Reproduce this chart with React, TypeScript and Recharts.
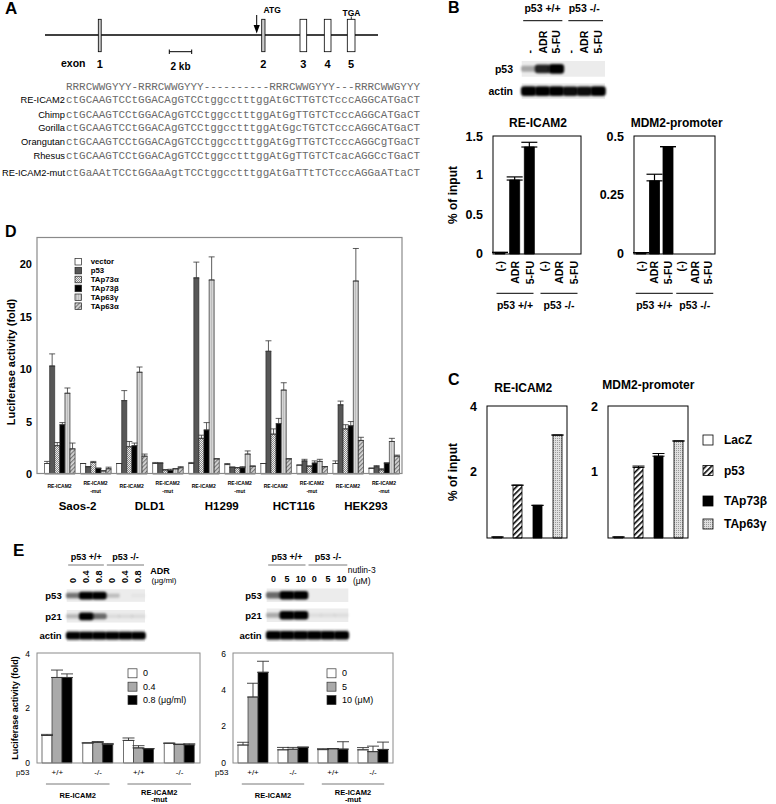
'use client'

import React from 'react'
import { BarChart, Bar, XAxis, YAxis, ErrorBar, Cell } from 'recharts'

const FONT = '"Liberation Sans", Arial, Helvetica, sans-serif'
const MONO = '"Liberation Mono", "Courier New", monospace'

// ---- A: alignment
const consensus = 'RRRCWWGYYY-RRRCWWGYYY----------RRRCWWGYYY---RRRCWWGYYY'
const seqNames = ['RE-ICAM2', 'Chimp', 'Gorilla', 'Orangutan', 'Rhesus', 'RE-ICAM2-mut']
const seqs = [
  'ctGCAAGTCCtGGACAgGTCCtggcctttggAtGCTTGTCTcccAGGCATGaCT',
  'ctGCAAGTCCtGGACAgGTCCtggcctttggAtGgTTGTCTcccAGGCATGaCT',
  'ctGCAAGTCCtGGACAgGTCCtggcctttggAtGgcTGTCTcccAGGCATGaCT',
  'ctGCAAGTCCtGGACAgGTCCtggcctttggAtGgTTGTCTcccAGGCgTGaCT',
  'ctGCAAGTCCtGGACAgGTCCtggcctttggAtGgTTGTCTcacAGGCcTGaCT',
  'ctGaAAtTCCtGGAaAgtTCCtggcctttggAtGaTTtTCTcccAGGaATtaCT',
]
const exonNames = ['1', '2', '3', '4', '5']

// ---- B: ChIP
const chipLanes = ['(-)', 'ADR', '5-FU', '(-)', 'ADR', '5-FU']
const chipIcam2 = [0.02, 0.94, 1.36, 0, 0, 0]
const chipIcam2Err = [0, 0.04, 0.06, 0, 0, 0]
const chipMdm2 = [0.006, 0.31, 0.455, 0, 0, 0]
const chipMdm2Err = [0, 0.028, 0, 0, 0, 0]
const blotBLanes = ['-', 'ADR', '5-FU', '-', 'ADR', '5-FU']
const blotBp53 = [0.3, 0.85, 1, 0, 0, 0]
const blotBactin = [1, 1, 1, 0.95, 0.95, 1]

// ---- C: ChIP with overexpression
const cFactors = ['LacZ', 'p53', 'TAp73β', 'TAp63γ']
const cIcam2 = [0.03, 1.6, 0.99, 3.12]
const cIcam2Err = [0, 0, 0, 0]
const cMdm2 = [0.015, 1.07, 1.24, 1.47]
const cMdm2Err = [0, 0.02, 0.04, 0]

// ---- D: luciferase in cell lines
const cellLines = ['Saos-2', 'DLD1', 'H1299', 'HCT116', 'HEK293']
const dSeriesNames = ['vector', 'p53', 'TAp73α', 'TAp73β', 'TAp63γ', 'TAp63α']
const dVector = [1.0, 1.0, 1.0, 1.0, 1.0, 0.9, 1.0, 0.85, 1.0, 0.55]
const dVectorErr = [0.2, 0, 0, 0.1, 0.1, 0.1, 0, 0, 0.25, 0]
const dP53 = [10.3, 0.7, 7.0, 1.05, 18.7, 0.65, 11.7, 1.25, 6.6, 0.7]
const dP53Err = [1.15, 0, 0.95, 0, 1.5, 0, 1.0, 0.15, 0.35, 0.1]
const dTAp73a = [2.7, 1.1, 2.6, 0.4, 3.4, 0.6, 3.8, 0.75, 4.3, 0.4]
const dTAp73aErr = [0.3, 0.1, 0.5, 0, 0.3, 0, 0.5, 0, 0.4, 0.1]
const dTAp73b = [4.7, 0.55, 2.7, 0.35, 4.2, 0.6, 4.8, 1.05, 4.6, 1.05]
const dTAp73bErr = [0.2, 0, 0.25, 0.1, 0.7, 0.1, 0.5, 0.2, 0.4, 0]
const dTAp63g = [7.7, 0.3, 9.7, 0.5, 18.5, 1.9, 8.0, 1.2, 18.4, 3.1]
const dTAp63gErr = [0.5, 0, 0.5, 0, 2.2, 0.3, 0.7, 0.2, 3.1, 0.3]
const dTAp63a = [2.4, 0.5, 1.7, 0.6, 1.45, 0.75, 1.45, 0.7, 3.2, 1.7]
const dTAp63aErr = [0.55, 0.15, 0.2, 0.1, 0, 0, 0, 0, 0.3, 0.1]

// ---- E: ADR / nutlin-3
const eGenotypes = ['+/+', '-/-', '+/+', '-/-']
const adrLegend = ['0', '0.4', '0.8 (μg/ml)']
const adr0 = [1.0, 0.73, 0.82, 0.72]
const adr0Err = [0.04, 0, 0.09, 0]
const adr04 = [3.11, 0.75, 0.55, 0.68]
const adr04Err = [0.27, 0.03, 0.08, 0]
const adr08 = [3.11, 0.67, 0.52, 0.66]
const adr08Err = [0.13, 0.04, 0, 0.04]
const nutLegend = ['0', '5', '10 (μM)']
const nut0 = [0.98, 0.72, 0.73, 0.72]
const nut0Err = [0.15, 0.13, 0.05, 0.12]
const nut5 = [3.6, 0.75, 0.78, 0.62]
const nut5Err = [0.75, 0.1, 0, 0.3]
const nut10 = [4.95, 0.86, 0.76, 0.74]
const nut10Err = [0.6, 0, 0.4, 0.4]
const adrLanes = ['0', '0.4', '0.8', '0', '0.4', '0.8']
const adrBlotP53 = [0.5, 1, 1, 0.2, 0, 0.03]
const adrBlotP21 = [0.22, 1, 0.55, 0.07, 0.07, 0.07]
const adrBlotActin = [1, 1, 1, 1, 1, 1]
const nutLanes = ['0', '5', '10', '0', '5', '10']
const nutBlotP53 = [0.55, 1, 1, 0, 0, 0]
const nutBlotP21 = [0.28, 1, 1, 0.06, 0.06, 0.06]
const nutBlotActin = [1, 1, 1, 1, 1, 1]

type Box = { x: number; y: number; w: number; h: number }

const B1: Box = { x: 493, y: 136, w: 88, h: 118 }
const B2: Box = { x: 634, y: 136, w: 81, h: 118 }
const C1: Box = { x: 487, y: 406, w: 80, h: 132 }
const C2: Box = { x: 608, y: 406, w: 80, h: 132 }
const DB: Box = { x: 37, y: 237.5, w: 365, h: 236 }
const D_PAD = 4.5
const D_BAND = (DB.w - D_PAD) / 10
const E1: Box = { x: 37, y: 653, w: 163, h: 110 }
const E2: Box = { x: 233, y: 653, w: 160, h: 110 }

function frame(b: Box, padL: number, padB: number, padT = 8, padR = 8) {
  return {
    wrap: { position: 'absolute' as const, left: b.x - padL, top: b.y - padT },
    width: b.w + padL + padR,
    height: b.h + padT + padB,
    margin: { top: padT, right: padR, left: 0, bottom: 0 },
  }
}

function T({ x, y, s = 10, b = true, a = 'start', rot = 0, fill = '#000', children }: any) {
  return (
    <text
      x={rot ? 0 : x}
      y={rot ? 0 : y}
      transform={rot ? `translate(${x},${y}) rotate(${rot})` : undefined}
      fontSize={s}
      fontWeight={b ? 'bold' : 'normal'}
      textAnchor={a}
      dominantBaseline="central"
      fill={fill}
      fontFamily={FONT}
    >
      {children}
    </text>
  )
}

const yTick = (size: number, bold: boolean) => (p: any) => (
  <T x={p.x} y={p.y} s={size} b={bold} a="end">
    {p.payload.value}
  </T>
)

function PatternDefs() {
  return (
    <svg width={0} height={0} style={{ position: 'absolute' }}>
      <defs>
        <pattern id="pChk" width="2" height="2" patternUnits="userSpaceOnUse">
          <rect width="2" height="2" fill="#eeeeee" />
          <rect width="1" height="1" fill="#8a8a8a" />
          <rect x="1" y="1" width="1" height="1" fill="#8a8a8a" />
        </pattern>
        <pattern id="pVert" width="2" height="2" patternUnits="userSpaceOnUse">
          <rect width="2" height="2" fill="#d6d6d6" />
          <rect width="1" height="2" fill="#bdbdbd" />
        </pattern>
        <pattern id="pDiagGray" width="3" height="3" patternUnits="userSpaceOnUse" patternTransform="rotate(45)">
          <rect width="3" height="3" fill="#d8d8d8" />
          <rect width="1.2" height="3" fill="#777" />
        </pattern>
        <pattern id="pHatch" width="4" height="4" patternUnits="userSpaceOnUse" patternTransform="rotate(45)">
          <rect width="4" height="4" fill="#fff" />
          <rect width="1.6" height="4" fill="#000" />
        </pattern>
        <pattern id="pDots" width="2" height="2" patternUnits="userSpaceOnUse">
          <rect width="2" height="2" fill="#e0e0e0" />
          <rect width="1" height="1" fill="#999" />
        </pattern>
        <filter id="blur" x="-50%" y="-50%" width="200%" height="200%">
          <feGaussianBlur stdDeviation="1" />
        </filter>
      </defs>
    </svg>
  )
}

function ChipChart({ box, values, errs, max, ticks }: { box: Box; values: number[]; errs: number[]; max: number; ticks: number[] }) {
  const f = frame(box, 40, 40)
  const data = values.map((v, i) => ({ k: i, v, e: [0, errs[i]] }))
  return (
    <div style={f.wrap}>
      <BarChart width={f.width} height={f.height} margin={f.margin} data={data} barGap={0}>
        <XAxis
          dataKey="k"
          type="category"
          height={40}
          interval={0}
          axisLine={false}
          tickLine={false}
          tickSize={0}
          tickMargin={7}
          tick={(p: any) => (
            <T x={p.x} y={p.y} s={10.5} a="end" rot={-90}>
              {chipLanes[p.payload.value]}
            </T>
          )}
        />
        <YAxis type="number" domain={[0, max]} ticks={ticks} width={40} axisLine={false} tickLine={false} tickSize={0} tickMargin={10} tick={yTick(12.5, true)} />
        <Bar dataKey="v" fill="#000" stroke="#000" strokeWidth={0.8} barSize={10} isAnimationActive={false}>
          <ErrorBar dataKey="e" width={8} stroke="#000" strokeWidth={1.2} direction="y" />
        </Bar>
      </BarChart>
    </div>
  )
}

const cFills = ['#fff', 'url(#pHatch)', '#000', 'url(#pDots)']

function FactorChart({ box, values, errs, max, ticks }: { box: Box; values: number[]; errs: number[]; max: number; ticks: number[] }) {
  const f = frame(box, 30, 8)
  const data = values.map((v, i) => ({ k: i, v, e: [0, errs[i]] }))
  return (
    <div style={f.wrap}>
      <BarChart width={f.width} height={f.height} margin={f.margin} data={data}>
        <XAxis dataKey="k" type="category" height={8} axisLine={false} tickLine={false} tick={false} />
        <YAxis type="number" domain={[0, max]} ticks={ticks} width={30} axisLine={false} tickLine={false} tickSize={0} tickMargin={10} tick={yTick(12.5, true)} />
        <Bar dataKey="v" stroke="#000" strokeWidth={0.8} barSize={9} isAnimationActive={false}>
          {data.map((_, i) => (
            <Cell key={i} fill={cFills[i]} />
          ))}
          <ErrorBar dataKey="e" width={6} stroke="#000" strokeWidth={1} direction="y" />
        </Bar>
      </BarChart>
    </div>
  )
}

const dValues = [dVector, dP53, dTAp73a, dTAp73b, dTAp63g, dTAp63a]
const dErrs = [dVectorErr, dP53Err, dTAp73aErr, dTAp73bErr, dTAp63gErr, dTAp63aErr]
const dFills = ['#fff', '#575757', 'url(#pChk)', '#000', 'url(#pVert)', 'url(#pDiagGray)']

function CellLineChart() {
  const f = frame(DB, 40, 42)
  const data = dVector.map((_, i) => {
    const row: any = { k: i }
    dValues.forEach((vals, s) => {
      row['s' + s] = vals[i]
      row['e' + s] = [0, dErrs[s][i]]
    })
    return row
  })
  return (
    <div style={f.wrap}>
      <BarChart width={f.width} height={f.height} margin={f.margin} data={data} barGap={0}>
        <XAxis
          dataKey="k"
          type="category"
          height={42}
          interval={0}
          padding={{ left: D_PAD, right: 0 }}
          axisLine={false}
          tickLine={false}
          tickSize={0}
          tickMargin={0}
          tick={(p: any) => {
            const i = p.payload.value
            const mut = i % 2 === 1
            return (
              <g>
                <T x={p.x} y={p.y + (mut ? 9 : 11.5)} s={5} a="middle">RE-ICAM2</T>
                {mut && <T x={p.x} y={p.y + 16.5} s={5} a="middle">-mut</T>}
                {mut && (
                  <T x={p.x - D_BAND / 2} y={p.y + 31.5} s={11.5} a="middle">
                    {cellLines[(i - 1) / 2]}
                  </T>
                )}
              </g>
            )
          }}
        />
        <YAxis type="number" domain={[0, 22.5]} ticks={[0, 5, 10, 15, 20]} width={40} axisLine={false} tickLine={false} tickSize={0} tickMargin={5} tick={yTick(11, true)} />
        {dSeriesNames.map((name, s) => (
          <Bar key={name} dataKey={'s' + s} name={name} fill={dFills[s]} stroke="#222" strokeWidth={0.6} barSize={5.1} isAnimationActive={false}>
            <ErrorBar dataKey={'e' + s} width={3} stroke="#333" strokeWidth={0.8} direction="y" />
          </Bar>
        ))}
      </BarChart>
    </div>
  )
}

const eFills = ['#fff', '#aaaaaa', '#000']

function DoseChart({ box, series, errs, max, ticks }: { box: Box; series: number[][]; errs: number[][]; max: number; ticks: number[] }) {
  const f = frame(box, 30, 20)
  const data = series[0].map((_, i) => {
    const row: any = { k: i }
    series.forEach((vals, s) => {
      row['s' + s] = vals[i]
      row['e' + s] = [0, errs[s][i]]
    })
    return row
  })
  return (
    <div style={f.wrap}>
      <BarChart width={f.width} height={f.height} margin={f.margin} data={data} barGap={0}>
        <XAxis
          dataKey="k"
          type="category"
          height={20}
          interval={0}
          axisLine={false}
          tickLine={false}
          tickSize={0}
          tickMargin={9}
          tick={(p: any) => (
            <T x={p.x} y={p.y} s={8} b={false} a="middle">
              {eGenotypes[p.payload.value]}
            </T>
          )}
        />
        <YAxis type="number" domain={[0, max]} ticks={ticks} width={30} axisLine={false} tickLine={false} tickSize={0} tickMargin={7} tick={yTick(8.5, false)} />
        {series.map((_, s) => (
          <Bar key={s} dataKey={'s' + s} fill={eFills[s]} stroke="#333" strokeWidth={0.7} barSize={10} isAnimationActive={false}>
            <ErrorBar dataKey={'e' + s} width={6} stroke="#333" strokeWidth={0.9} direction="y" />
          </Bar>
        ))}
      </BarChart>
    </div>
  )
}

function Blot({ x, y, w, h, bands }: { x: number; y: number; w: number; h: number; bands: number[] }) {
  const lw = w / bands.length
  return (
    <g>
      <rect x={x} y={y} width={w} height={h} fill="#ececec" />
      {bands.map((v, i) => {
        if (v <= 0) return null
        const bh = h * 0.62 * (0.45 + 0.55 * v)
        return (
          <rect
            key={i}
            x={x + lw * i - 0.8}
            y={y + h / 2 - bh / 2}
            width={lw + 1.6}
            height={bh}
            rx={bh / 3}
            fill="#000"
            fillOpacity={Math.min(1, v)}
            filter="url(#blur)"
          />
        )
      })}
    </g>
  )
}

function laneCenters(x: number, w: number, n: number) {
  return Array.from({ length: n }, (_, i) => x + (w / n) * (i + 0.5))
}

function Overlay() {
  const bx = 521.7
  const bw = 83.3
  const bLanes = laneCenters(bx, bw, 6)
  const elx = 66.7
  const elw = 78.3
  const eLanesL = laneCenters(elx, elw, 6)
  const erx = 266.7
  const erw = 81.6
  const eLanesR = laneCenters(erx, erw, 6)
  const exons = [
    { x: 98.3, w: 2.9, fill: '#ccc' },
    { x: 261.7, w: 3.3, fill: '#ccc' },
    { x: 300, w: 6.7, fill: '#fff' },
    { x: 324.3, w: 6.7, fill: '#fff' },
    { x: 347.3, w: 7.7, fill: '#fff' },
  ]
  const seqY = [100, 115, 128.3, 141.7, 155.7, 172.7]
  const chipGroups = (b: Box) => {
    const band = b.w / 6
    return [1.5, 4.5].map((c) => b.x + band * c)
  }
  const eGroupsX = (b: Box) => {
    const band = b.w / 4
    return [1, 3].map((c) => ({ c: b.x + band * c, hw: band * 0.78 }))
  }
  const box = (b: Box, stroke: string, sw = 1) => (
    <rect x={b.x} y={b.y} width={b.w} height={b.h} fill="none" stroke={stroke} strokeWidth={sw} />
  )
  return (
    <svg width={776} height={804} style={{ position: 'absolute', left: 0, top: 0, pointerEvents: 'none' }}>
      {/* A */}
      <T x={5} y={8} s={17}>A</T>
      <line x1={45} y1={35} x2={378} y2={35} stroke="#000" strokeWidth={1.5} />
      {exons.map((e, i) => (
        <g key={i}>
          <rect x={e.x} y={19.3} width={e.w} height={32.4} fill={e.fill} stroke="#000" strokeWidth={0.8} />
          <T x={e.x + e.w / 2} y={63.5} s={11} a="middle">{exonNames[i]}</T>
        </g>
      ))}
      <T x={61} y={62.5} s={10.5}>exon</T>
      <line x1={256.7} y1={15} x2={256.7} y2={26} stroke="#000" strokeWidth={1} />
      <polygon points="253.6,25 259.8,25 256.7,33.5" fill="#000" />
      <T x={263.5} y={9.5} s={8.5}>ATG</T>
      <T x={351.5} y={12.5} s={8.5} a="middle">TGA</T>
      <line x1={351.3} y1={16.5} x2={351.3} y2={19.3} stroke="#000" strokeWidth={0.8} />
      <line x1={169.3} y1={51.7} x2={191.7} y2={51.7} stroke="#000" strokeWidth={1} />
      <line x1={169.3} y1={49.5} x2={169.3} y2={54} stroke="#000" strokeWidth={1} />
      <line x1={191.7} y1={49.5} x2={191.7} y2={54} stroke="#000" strokeWidth={1} />
      <T x={180.5} y={66} s={10} a="middle">2 kb</T>
      <text x={66} y={86.7} fontFamily={MONO} fontSize={10.9} fill="#6a6a6a" dominantBaseline="central" textLength={354} lengthAdjust="spacing">
        {consensus}
      </text>
      {seqNames.map((n, i) => (
        <g key={n}>
          <T x={65} y={seqY[i]} s={9.3} b={false} a="end">{n}</T>
          <text x={66} y={seqY[i]} fontFamily={MONO} fontSize={10.9} fill="#6a6a6a" dominantBaseline="central" textLength={354} lengthAdjust="spacing">
            {seqs[i]}
          </text>
        </g>
      ))}

      {/* B */}
      <T x={448} y={7.5} s={16}>B</T>
      <T x={bx + bw / 4} y={8.3} s={10.5} a="middle">p53 +/+</T>
      <T x={bx + (3 * bw) / 4} y={8.3} s={10.5} a="middle">p53 -/-</T>
      <line x1={bx + 1.5} y1={20.7} x2={bx + bw / 2 - 1} y2={20.7} stroke="#000" />
      <line x1={bx + bw / 2 + 5} y1={20.7} x2={bx + bw - 2} y2={20.7} stroke="#000" />
      {bLanes.map((cx, i) => (
        <T key={i} x={cx} y={53.5} s={10.5} rot={-90}>{blotBLanes[i]}</T>
      ))}
      <Blot x={bx} y={61} w={bw} h={15.7} bands={blotBp53} />
      <Blot x={bx} y={83.3} w={bw} h={15.7} bands={blotBactin} />
      <T x={513} y={69} s={10.5} a="end">p53</T>
      <T x={513} y={91} s={10.5} a="end">actin</T>
      <T x={538} y={122.7} s={12} a="middle">RE-ICAM2</T>
      <T x={676.7} y={122.7} s={12} a="middle">MDM2-promoter</T>
      <T x={453.3} y={195} s={12} rot={-90} a="middle">%  of input</T>
      {box(B1, '#000')}
      {box(B2, '#000')}
      {[B1, B2].map((b, j) =>
        chipGroups(b).map((c, i) => (
          <g key={`${j}-${i}`}>
            <line x1={c - 18.5} y1={293.3} x2={c + 18.5} y2={293.3} stroke="#000" />
            <T x={c} y={305} s={10.5} a="middle">{i === 0 ? 'p53 +/+' : 'p53 -/-'}</T>
          </g>
        ))
      )}

      {/* C */}
      <T x={448} y={379} s={16}>C</T>
      <T x={523.3} y={388.3} s={12} a="middle">RE-ICAM2</T>
      <T x={648.3} y={385} s={12} a="middle">MDM2-promoter</T>
      <T x={453.3} y={472} s={12} rot={-90} a="middle">%  of input</T>
      {box(C1, '#000')}
      {box(C2, '#000')}
      {cFactors.map((n, i) => {
        const cy = [440, 470.5, 501, 524][i]
        return (
          <g key={n}>
            <rect x={703} y={cy - 5} width={10} height={10} fill={cFills[i]} stroke="#000" strokeWidth={0.8} />
            <T x={724} y={cy} s={12}>{n}</T>
          </g>
        )
      })}

      {/* D */}
      <T x={5} y={231} s={16}>D</T>
      <T x={11} y={362} s={11} rot={-90} a="middle">Luciferase activity (fold)</T>
      {box(DB, '#8a8a8a', 1.2)}
      {dSeriesNames.map((n, i) => {
        const cy = 261.7 + i * 8.9
        return (
          <g key={n}>
            <rect x={75} y={cy - 3.3} width={6.6} height={6.6} fill={dFills[i]} stroke="#222" strokeWidth={0.7} />
            <T x={90.7} y={cy} s={7.8}>{n}</T>
          </g>
        )
      })}

      {/* E */}
      <T x={13} y={550} s={17}>E</T>
      {[
        { x: elx, w: elw, p53: adrBlotP53, p21: adrBlotP21, actin: adrBlotActin, rows: [589.3, 610, 629.3], h: 12.5, lab: 61.7 },
        { x: erx, w: erw, p53: nutBlotP53, p21: nutBlotP21, actin: nutBlotActin, rows: [588.5, 608.5, 628.5], h: 13.5, lab: 261.7 },
      ].map((bl, j) => (
        <g key={j}>
          <T x={bl.x + bl.w / 4} y={556.7} s={9} a="middle">p53 +/+</T>
          <T x={bl.x + (3 * bl.w) / 4} y={556.7} s={9} a="middle">p53 -/-</T>
          <line x1={bl.x + 1.5} y1={565} x2={bl.x + bl.w / 2 - 2} y2={565} stroke="#555" strokeWidth={0.8} />
          <line x1={bl.x + bl.w / 2 + 1} y1={565} x2={bl.x + bl.w - 1} y2={565} stroke="#555" strokeWidth={0.8} />
          <Blot x={bl.x} y={bl.rows[0]} w={bl.w} h={bl.h} bands={bl.p53} />
          <Blot x={bl.x} y={bl.rows[1]} w={bl.w} h={bl.h} bands={bl.p21} />
          <Blot x={bl.x} y={bl.rows[2]} w={bl.w} h={bl.h} bands={bl.actin} />
          {['p53', 'p21', 'actin'].map((n, i) => (
            <T key={n} x={bl.lab} y={bl.rows[i] + bl.h / 2} s={9.5} a="end">{n}</T>
          ))}
        </g>
      ))}
      {eLanesL.map((cx, i) => (
        <T key={i} x={cx} y={583} s={9} rot={-90}>{adrLanes[i]}</T>
      ))}
      {eLanesR.map((cx, i) => (
        <T key={i} x={cx} y={579} s={9} a="middle">{nutLanes[i]}</T>
      ))}
      <T x={160} y={570.5} s={9} a="middle">ADR</T>
      <T x={164} y={580.5} s={8} b={false} a="middle">(μg/ml)</T>
      <T x={361.7} y={570} s={8.5} b={false} a="middle">nutlin-3</T>
      <T x={361.7} y={580.5} s={8.5} b={false} a="middle">(μM)</T>
      <T x={15} y={708} s={9} rot={-90} a="middle">Luciferase activity (fold)</T>
      {box(E1, '#8a8a8a')}
      {box(E2, '#8a8a8a')}
      {[adrLegend, nutLegend].map((lg, j) =>
        lg.map((n, i) => {
          const cy = 673.3 + i * 13.4
          const lx = j === 0 ? 128 : 327
          return (
            <g key={`${j}-${i}`}>
              <rect x={lx} y={cy - 4.5} width={9} height={9} fill={eFills[i]} stroke="#333" strokeWidth={0.7} />
              <T x={lx + 15} y={cy} s={9} b={false}>{n}</T>
            </g>
          )
        })
      )}
      <T x={22.7} y={772} s={8} b={false} a="middle">p53</T>
      <T x={221.7} y={772} s={8} b={false} a="middle">p53</T>
      {[E1, E2].map((b, j) =>
        eGroupsX(b).map((g, i) => (
          <g key={`${j}-${i}`}>
            <line x1={g.c - g.hw} y1={784} x2={g.c + g.hw} y2={784} stroke="#555" strokeWidth={0.8} />
            {i === 0 ? (
              <T x={g.c} y={795} s={7.5} a="middle">RE-ICAM2</T>
            ) : (
              <g>
                <T x={g.c} y={792} s={7.5} a="middle">RE-ICAM2</T>
                <T x={g.c} y={799.5} s={7.5} a="middle">-mut</T>
              </g>
            )}
          </g>
        ))
      )}
    </svg>
  )
}

export default function App() {
  return (
    <div style={{ position: 'absolute', left: 0, top: 0, width: 776, height: 804, background: '#fff', fontFamily: FONT, overflow: 'hidden' }}>
      <PatternDefs />
      <ChipChart box={B1} values={chipIcam2} errs={chipIcam2Err} max={1.5} ticks={[0, 0.5, 1, 1.5]} />
      <ChipChart box={B2} values={chipMdm2} errs={chipMdm2Err} max={0.5} ticks={[0, 0.25, 0.5]} />
      <FactorChart box={C1} values={cIcam2} errs={cIcam2Err} max={4} ticks={[0, 2, 4]} />
      <FactorChart box={C2} values={cMdm2} errs={cMdm2Err} max={2} ticks={[0, 1, 2]} />
      <CellLineChart />
      <DoseChart box={E1} series={[adr0, adr04, adr08]} errs={[adr0Err, adr04Err, adr08Err]} max={4} ticks={[0, 2, 4]} />
      <DoseChart box={E2} series={[nut0, nut5, nut10]} errs={[nut0Err, nut5Err, nut10Err]} max={6} ticks={[0, 2, 4, 6]} />
      <Overlay />
    </div>
  )
}
